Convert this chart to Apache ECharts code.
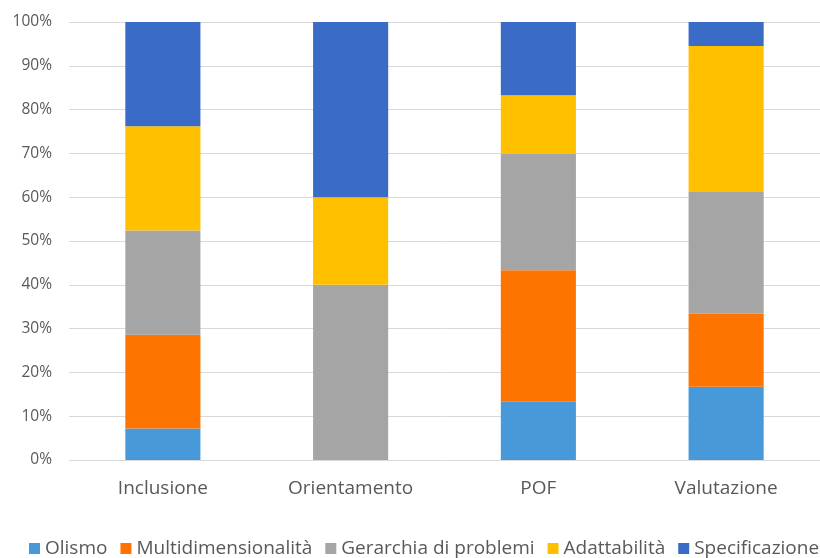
<!DOCTYPE html>
<html>
<head>
<meta charset="utf-8">
<script src="https://cdn.jsdelivr.net/npm/echarts@6/dist/echarts.min.js"></script>
<style>
  html, body { margin: 0; padding: 0; background: #ffffff; }
  #chart { width: 820px; height: 558px; }
</style>
</head>
<body>
<div id="chart"></div>
<script>
// Categorie (aree di intervento)
const categories = ['Inclusione', 'Orientamento', 'POF', 'Valutazione'];

// Quota percentuale di ciascun criterio per categoria
const olismo = [7.2, 0, 13.3, 16.7];
const multidimensionalita = [21.4, 0, 30.0, 16.7];
const gerarchiaProblemi = [23.8, 40.0, 26.7, 27.8];
const adattabilita = [23.8, 20.0, 13.3, 33.3];
const specificazione = [23.8, 40.0, 16.7, 5.5];

const seriesNames = ['Olismo', 'Multidimensionalità', 'Gerarchia di problemi', 'Adattabilità', 'Specificazione'];
const seriesValues = [olismo, multidimensionalita, gerarchiaProblemi, adattabilita, specificazione];
const seriesColors = ['#4899D9', '#FF7300', '#A5A5A5', '#FFC000', '#3A6BC7'];

const textColor = '#595959';
const fontFamily = '"Open Sans", "Noto Sans", sans-serif';

const chart = echarts.init(document.getElementById('chart'), null, { renderer: 'canvas' });

chart.setOption({
  animation: false,
  backgroundColor: '#ffffff',
  textStyle: { fontFamily: fontFamily, color: textColor },
  grid: { left: 69, right: 0, top: 22, bottom: 98, containLabel: false },
  legend: {
    left: 29,
    top: 539,
    width: 2000,
    padding: 0,
    itemWidth: 11,
    itemHeight: 11,
    itemGap: 13,
    icon: 'rect',
    data: seriesNames,
    textStyle: { fontFamily: fontFamily, fontSize: 19, color: textColor, padding: [0, 0, 0, 0] }
  },
  xAxis: {
    type: 'category',
    data: categories,
    axisLine: { show: false },
    axisTick: { show: false },
    axisLabel: { color: textColor, fontSize: 19, margin: 19, fontFamily: fontFamily }
  },
  yAxis: {
    type: 'value',
    min: 0,
    max: 100,
    interval: 10,
    axisLine: { show: false },
    axisTick: { show: false },
    axisLabel: { color: textColor, fontSize: 15.5, margin: 17, formatter: '{value}%', fontFamily: fontFamily },
    splitLine: { lineStyle: { color: '#D9D9D9', width: 1 } }
  },
  series: seriesNames.map((name, i) => ({
    name: name,
    type: 'bar',
    stack: 'totale',
    barWidth: '40%',
    data: seriesValues[i],
    itemStyle: { color: seriesColors[i] }
  }))
});
</script>
</body>
</html>
